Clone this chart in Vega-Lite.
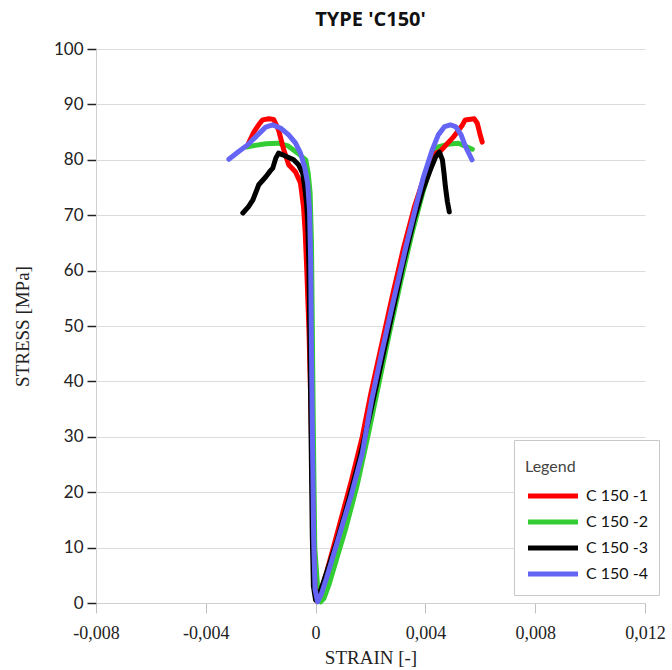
{
  "$schema": "https://vega.github.io/schema/vega-lite/v6.json",
  "autosize": {"type": "none"},
  "padding": {"left": 96, "top": 49, "right": 27, "bottom": 67},
  "width": 549,
  "height": 554,
  "title": {"text": "TYPE 'C150'", "font": "Open Sans", "fontSize": 20, "fontWeight": "bold", "color": "#111", "anchor": "middle", "frame": "group", "baseline": "bottom", "offset": 18, "dy": 28},
  "config": {"view": {"stroke": null}},
  "datasets": {
    "curves": [
      {"s": "C 150 -1", "i": 1, "strain": -0.00244, "stress": 83.0},
      {"s": "C 150 -1", "i": 2, "strain": -0.00225, "stress": 85.0},
      {"s": "C 150 -1", "i": 3, "strain": -0.00205, "stress": 86.5},
      {"s": "C 150 -1", "i": 4, "strain": -0.00193, "stress": 87.2},
      {"s": "C 150 -1", "i": 5, "strain": -0.0017, "stress": 87.4},
      {"s": "C 150 -1", "i": 6, "strain": -0.00153, "stress": 87.3},
      {"s": "C 150 -1", "i": 7, "strain": -0.00135, "stress": 85.4},
      {"s": "C 150 -1", "i": 8, "strain": -0.00116, "stress": 81.8},
      {"s": "C 150 -1", "i": 9, "strain": -0.00098, "stress": 79.1},
      {"s": "C 150 -1", "i": 10, "strain": -0.00073, "stress": 77.8},
      {"s": "C 150 -1", "i": 11, "strain": -0.00055, "stress": 75.8},
      {"s": "C 150 -1", "i": 12, "strain": -0.00044, "stress": 71.5},
      {"s": "C 150 -1", "i": 13, "strain": -0.00038, "stress": 67.0},
      {"s": "C 150 -1", "i": 14, "strain": -0.00032, "stress": 60.0},
      {"s": "C 150 -1", "i": 15, "strain": -0.00024, "stress": 49.0},
      {"s": "C 150 -1", "i": 16, "strain": -0.00017, "stress": 35.0},
      {"s": "C 150 -1", "i": 17, "strain": -0.00012, "stress": 22.0},
      {"s": "C 150 -1", "i": 18, "strain": -0.00007, "stress": 9.0},
      {"s": "C 150 -1", "i": 19, "strain": -0.00002, "stress": 2.0},
      {"s": "C 150 -1", "i": 20, "strain": 0.00005, "stress": 0.3},
      {"s": "C 150 -1", "i": 21, "strain": 0.0002, "stress": 2.0},
      {"s": "C 150 -1", "i": 22, "strain": 0.0004, "stress": 5.5},
      {"s": "C 150 -1", "i": 23, "strain": 0.0007, "stress": 11.0},
      {"s": "C 150 -1", "i": 24, "strain": 0.001, "stress": 16.5},
      {"s": "C 150 -1", "i": 25, "strain": 0.0013, "stress": 22.0},
      {"s": "C 150 -1", "i": 26, "strain": 0.0017, "stress": 30.0},
      {"s": "C 150 -1", "i": 27, "strain": 0.002, "stress": 37.5},
      {"s": "C 150 -1", "i": 28, "strain": 0.0024, "stress": 46.5},
      {"s": "C 150 -1", "i": 29, "strain": 0.0028, "stress": 55.5},
      {"s": "C 150 -1", "i": 30, "strain": 0.0032, "stress": 64.0},
      {"s": "C 150 -1", "i": 31, "strain": 0.0036, "stress": 71.5},
      {"s": "C 150 -1", "i": 32, "strain": 0.004, "stress": 77.5},
      {"s": "C 150 -1", "i": 33, "strain": 0.0043, "stress": 81.0},
      {"s": "C 150 -1", "i": 34, "strain": 0.00455, "stress": 81.6},
      {"s": "C 150 -1", "i": 35, "strain": 0.005, "stress": 84.0},
      {"s": "C 150 -1", "i": 36, "strain": 0.00535, "stress": 86.3},
      {"s": "C 150 -1", "i": 37, "strain": 0.00545, "stress": 87.2},
      {"s": "C 150 -1", "i": 38, "strain": 0.00578, "stress": 87.4},
      {"s": "C 150 -1", "i": 39, "strain": 0.00589, "stress": 86.6},
      {"s": "C 150 -1", "i": 40, "strain": 0.00598, "stress": 84.8},
      {"s": "C 150 -1", "i": 41, "strain": 0.00607, "stress": 83.2},

      {"s": "C 150 -2", "i": 1, "strain": -0.00251, "stress": 82.3},
      {"s": "C 150 -2", "i": 2, "strain": -0.0022, "stress": 82.6},
      {"s": "C 150 -2", "i": 3, "strain": -0.0018, "stress": 82.9},
      {"s": "C 150 -2", "i": 4, "strain": -0.00138, "stress": 83.0},
      {"s": "C 150 -2", "i": 5, "strain": -0.001, "stress": 82.5},
      {"s": "C 150 -2", "i": 6, "strain": -0.00065, "stress": 81.2},
      {"s": "C 150 -2", "i": 7, "strain": -0.00036, "stress": 80.0},
      {"s": "C 150 -2", "i": 8, "strain": -0.00027, "stress": 77.6},
      {"s": "C 150 -2", "i": 9, "strain": -0.0002, "stress": 74.0},
      {"s": "C 150 -2", "i": 10, "strain": -0.00015, "stress": 65.0},
      {"s": "C 150 -2", "i": 11, "strain": -0.00012, "stress": 50.0},
      {"s": "C 150 -2", "i": 12, "strain": -0.00008, "stress": 30.0},
      {"s": "C 150 -2", "i": 13, "strain": -0.00003, "stress": 10.0},
      {"s": "C 150 -2", "i": 14, "strain": 0.0001, "stress": 1.0},
      {"s": "C 150 -2", "i": 15, "strain": 0.00018, "stress": 0.2},
      {"s": "C 150 -2", "i": 16, "strain": 0.0003, "stress": 0.8},
      {"s": "C 150 -2", "i": 17, "strain": 0.0005, "stress": 3.5},
      {"s": "C 150 -2", "i": 18, "strain": 0.0008, "stress": 8.5},
      {"s": "C 150 -2", "i": 19, "strain": 0.0011, "stress": 13.5},
      {"s": "C 150 -2", "i": 20, "strain": 0.0015, "stress": 21.0},
      {"s": "C 150 -2", "i": 21, "strain": 0.0019, "stress": 30.0},
      {"s": "C 150 -2", "i": 22, "strain": 0.0023, "stress": 39.5},
      {"s": "C 150 -2", "i": 23, "strain": 0.0027, "stress": 49.0},
      {"s": "C 150 -2", "i": 24, "strain": 0.0031, "stress": 58.0},
      {"s": "C 150 -2", "i": 25, "strain": 0.0035, "stress": 66.5},
      {"s": "C 150 -2", "i": 26, "strain": 0.0039, "stress": 74.0},
      {"s": "C 150 -2", "i": 27, "strain": 0.0042, "stress": 79.0},
      {"s": "C 150 -2", "i": 28, "strain": 0.00444, "stress": 82.3},
      {"s": "C 150 -2", "i": 29, "strain": 0.0048, "stress": 82.8},
      {"s": "C 150 -2", "i": 30, "strain": 0.0052, "stress": 83.0},
      {"s": "C 150 -2", "i": 31, "strain": 0.00571, "stress": 81.9},

      {"s": "C 150 -3", "i": 1, "strain": -0.00265, "stress": 70.4},
      {"s": "C 150 -3", "i": 2, "strain": -0.00245, "stress": 71.5},
      {"s": "C 150 -3", "i": 3, "strain": -0.00229, "stress": 72.7},
      {"s": "C 150 -3", "i": 4, "strain": -0.00207, "stress": 75.5},
      {"s": "C 150 -3", "i": 5, "strain": -0.00182, "stress": 76.9},
      {"s": "C 150 -3", "i": 6, "strain": -0.00165, "stress": 78.0},
      {"s": "C 150 -3", "i": 7, "strain": -0.00156, "stress": 78.5},
      {"s": "C 150 -3", "i": 8, "strain": -0.00145, "stress": 80.3},
      {"s": "C 150 -3", "i": 9, "strain": -0.00135, "stress": 81.2},
      {"s": "C 150 -3", "i": 10, "strain": -0.0012, "stress": 80.9},
      {"s": "C 150 -3", "i": 11, "strain": -0.00102, "stress": 80.5},
      {"s": "C 150 -3", "i": 12, "strain": -0.0008, "stress": 80.0},
      {"s": "C 150 -3", "i": 13, "strain": -0.00062, "stress": 79.1},
      {"s": "C 150 -3", "i": 14, "strain": -0.00047, "stress": 77.6},
      {"s": "C 150 -3", "i": 15, "strain": -0.0004, "stress": 75.1},
      {"s": "C 150 -3", "i": 16, "strain": -0.00033, "stress": 72.2},
      {"s": "C 150 -3", "i": 17, "strain": -0.00029, "stress": 69.1},
      {"s": "C 150 -3", "i": 18, "strain": -0.00024, "stress": 60.0},
      {"s": "C 150 -3", "i": 19, "strain": -0.0002, "stress": 45.0},
      {"s": "C 150 -3", "i": 20, "strain": -0.00016, "stress": 28.0},
      {"s": "C 150 -3", "i": 21, "strain": -0.00012, "stress": 12.0},
      {"s": "C 150 -3", "i": 22, "strain": -0.00008, "stress": 3.0},
      {"s": "C 150 -3", "i": 23, "strain": 0.0, "stress": 0.5},
      {"s": "C 150 -3", "i": 24, "strain": 0.0002, "stress": 2.5},
      {"s": "C 150 -3", "i": 25, "strain": 0.0005, "stress": 7.0},
      {"s": "C 150 -3", "i": 26, "strain": 0.0008, "stress": 11.5},
      {"s": "C 150 -3", "i": 27, "strain": 0.0012, "stress": 18.5},
      {"s": "C 150 -3", "i": 28, "strain": 0.0016, "stress": 26.0},
      {"s": "C 150 -3", "i": 29, "strain": 0.002, "stress": 34.5},
      {"s": "C 150 -3", "i": 30, "strain": 0.0024, "stress": 43.5},
      {"s": "C 150 -3", "i": 31, "strain": 0.0028, "stress": 52.5},
      {"s": "C 150 -3", "i": 32, "strain": 0.0032, "stress": 61.5},
      {"s": "C 150 -3", "i": 33, "strain": 0.0036, "stress": 69.5},
      {"s": "C 150 -3", "i": 34, "strain": 0.0039, "stress": 74.5},
      {"s": "C 150 -3", "i": 35, "strain": 0.00418, "stress": 78.2},
      {"s": "C 150 -3", "i": 36, "strain": 0.00437, "stress": 80.5},
      {"s": "C 150 -3", "i": 37, "strain": 0.00451, "stress": 81.4},
      {"s": "C 150 -3", "i": 38, "strain": 0.00462, "stress": 80.0},
      {"s": "C 150 -3", "i": 39, "strain": 0.00468, "stress": 77.5},
      {"s": "C 150 -3", "i": 40, "strain": 0.00473, "stress": 75.1},
      {"s": "C 150 -3", "i": 41, "strain": 0.0048, "stress": 72.5},
      {"s": "C 150 -3", "i": 42, "strain": 0.00487, "stress": 70.6},

      {"s": "C 150 -4", "i": 1, "strain": -0.00316, "stress": 80.1},
      {"s": "C 150 -4", "i": 2, "strain": -0.0028, "stress": 81.5},
      {"s": "C 150 -4", "i": 3, "strain": -0.00247, "stress": 82.7},
      {"s": "C 150 -4", "i": 4, "strain": -0.00211, "stress": 84.5},
      {"s": "C 150 -4", "i": 5, "strain": -0.00182, "stress": 85.9},
      {"s": "C 150 -4", "i": 6, "strain": -0.00156, "stress": 86.3},
      {"s": "C 150 -4", "i": 7, "strain": -0.00127, "stress": 85.7},
      {"s": "C 150 -4", "i": 8, "strain": -0.00098, "stress": 84.5},
      {"s": "C 150 -4", "i": 9, "strain": -0.00073, "stress": 83.0},
      {"s": "C 150 -4", "i": 10, "strain": -0.00055, "stress": 81.2},
      {"s": "C 150 -4", "i": 11, "strain": -0.0004, "stress": 78.7},
      {"s": "C 150 -4", "i": 12, "strain": -0.00029, "stress": 75.8},
      {"s": "C 150 -4", "i": 13, "strain": -0.00022, "stress": 70.9},
      {"s": "C 150 -4", "i": 14, "strain": -0.00018, "stress": 61.9},
      {"s": "C 150 -4", "i": 15, "strain": -0.00015, "stress": 45.7},
      {"s": "C 150 -4", "i": 16, "strain": -0.00011, "stress": 27.6},
      {"s": "C 150 -4", "i": 17, "strain": -0.00007, "stress": 11.4},
      {"s": "C 150 -4", "i": 18, "strain": -0.00002, "stress": 2.5},
      {"s": "C 150 -4", "i": 19, "strain": 0.00007, "stress": 0.2},
      {"s": "C 150 -4", "i": 20, "strain": 0.0002, "stress": 1.5},
      {"s": "C 150 -4", "i": 21, "strain": 0.0004, "stress": 4.5},
      {"s": "C 150 -4", "i": 22, "strain": 0.0007, "stress": 9.5},
      {"s": "C 150 -4", "i": 23, "strain": 0.001, "stress": 14.5},
      {"s": "C 150 -4", "i": 24, "strain": 0.0013, "stress": 19.5},
      {"s": "C 150 -4", "i": 25, "strain": 0.0017, "stress": 27.0},
      {"s": "C 150 -4", "i": 26, "strain": 0.00204, "stress": 36.6},
      {"s": "C 150 -4", "i": 27, "strain": 0.0024, "stress": 45.0},
      {"s": "C 150 -4", "i": 28, "strain": 0.00284, "stress": 54.7},
      {"s": "C 150 -4", "i": 29, "strain": 0.0033, "stress": 64.5},
      {"s": "C 150 -4", "i": 30, "strain": 0.00371, "stress": 72.7},
      {"s": "C 150 -4", "i": 31, "strain": 0.00393, "stress": 76.9},
      {"s": "C 150 -4", "i": 32, "strain": 0.00425, "stress": 81.8},
      {"s": "C 150 -4", "i": 33, "strain": 0.00447, "stress": 84.5},
      {"s": "C 150 -4", "i": 34, "strain": 0.0047, "stress": 86.0},
      {"s": "C 150 -4", "i": 35, "strain": 0.00491, "stress": 86.3},
      {"s": "C 150 -4", "i": 36, "strain": 0.0051, "stress": 86.0},
      {"s": "C 150 -4", "i": 37, "strain": 0.0053, "stress": 84.5},
      {"s": "C 150 -4", "i": 38, "strain": 0.00545, "stress": 82.5},
      {"s": "C 150 -4", "i": 39, "strain": 0.0057, "stress": 80.0}
    ]
  },
  "data": {"name": "curves"},
  "encoding": {
    "x": {
      "field": "strain", "type": "quantitative",
      "scale": {"domain": [-0.008, 0.012], "nice": false, "zero": false},
      "axis": {
        "title": "STRAIN [-]",
        "values": [-0.008, -0.004, 0, 0.004, 0.008, 0.012],
        "labelExpr": "datum.value == 0 ? '0' : (datum.value < 0 ? '-' : '') + replace(format(abs(datum.value), '.3f'), '.', ',')",
        "grid": false,
        "domainColor": "#cfcfcf",
        "tickColor": "#bfbfbf",
        "tickSize": 10,
        "labelFont": "Liberation Serif",
        "labelFontSize": 18,
        "labelColor": "#222",
        "labelPadding": 11,
        "labelFlush": false,
        "titleFont": "Liberation Serif",
        "titleFontSize": 19,
        "titleFontWeight": "normal",
        "titleColor": "#222",
        "titlePadding": 6
      }
    },
    "y": {
      "field": "stress", "type": "quantitative",
      "scale": {"domain": [0, 100], "nice": false},
      "axis": {
        "title": "STRESS [MPa]",
        "values": [0, 10, 20, 30, 40, 50, 60, 70, 80, 90, 100],
        "grid": true,
        "gridColor": "#dcdcdc",
        "gridWidth": 1.2,
        "domainColor": "#cfcfcf",
        "tickColor": "#222",
        "tickSize": 9,
        "tickWidth": 1.5,
        "labelFont": "Lato",
        "labelFontSize": 17,
        "labelColor": "#222",
        "labelPadding": 4,
        "titleFont": "Liberation Serif",
        "titleFontSize": 19,
        "titleFontWeight": "normal",
        "titleColor": "#222",
        "titlePadding": 21
      }
    },
    "color": {
      "field": "s", "type": "nominal",
      "scale": {"domain": ["C 150 -1", "C 150 -2", "C 150 -3", "C 150 -4"], "range": ["#ff0000", "#33cc33", "#000000", "#6464f5"]},
      "legend": {
        "title": "Legend",
        "orient": "none",
        "legendX": 418,
        "legendY": 391,
        "symbolType": "M-1,0H9",
        "symbolSize": 100,
        "symbolStrokeWidth": 5,
        "labelFont": "Lato",
        "labelFontSize": 16,
        "labelColor": "#111",
        "labelOffset": 45,
        "titleFont": "Lato",
        "titleFontSize": 16,
        "titleFontWeight": "normal",
        "titleColor": "#444",
        "titleBaseline": "line-top",
        "titleLineHeight": 32,
        "titlePadding": 21,
        "strokeColor": "#c8c8c8",
        "fillColor": "white",
        "padding": 11,
        "rowPadding": 6
      }
    },
    "order": {"field": "i", "type": "quantitative"}
  },
  "layer": [
    {"transform": [{"filter": "datum.s == 'C 150 -2'"}], "mark": {"type": "line", "strokeWidth": 5, "strokeJoin": "round", "strokeCap": "round"}},
    {"transform": [{"filter": "datum.s == 'C 150 -1'"}], "mark": {"type": "line", "strokeWidth": 5, "strokeJoin": "round", "strokeCap": "round"}},
    {"transform": [{"filter": "datum.s == 'C 150 -3'"}], "mark": {"type": "line", "strokeWidth": 5, "strokeJoin": "round", "strokeCap": "round"}},
    {"transform": [{"filter": "datum.s == 'C 150 -4'"}], "mark": {"type": "line", "strokeWidth": 5, "strokeJoin": "round", "strokeCap": "round"}}
  ]
}
